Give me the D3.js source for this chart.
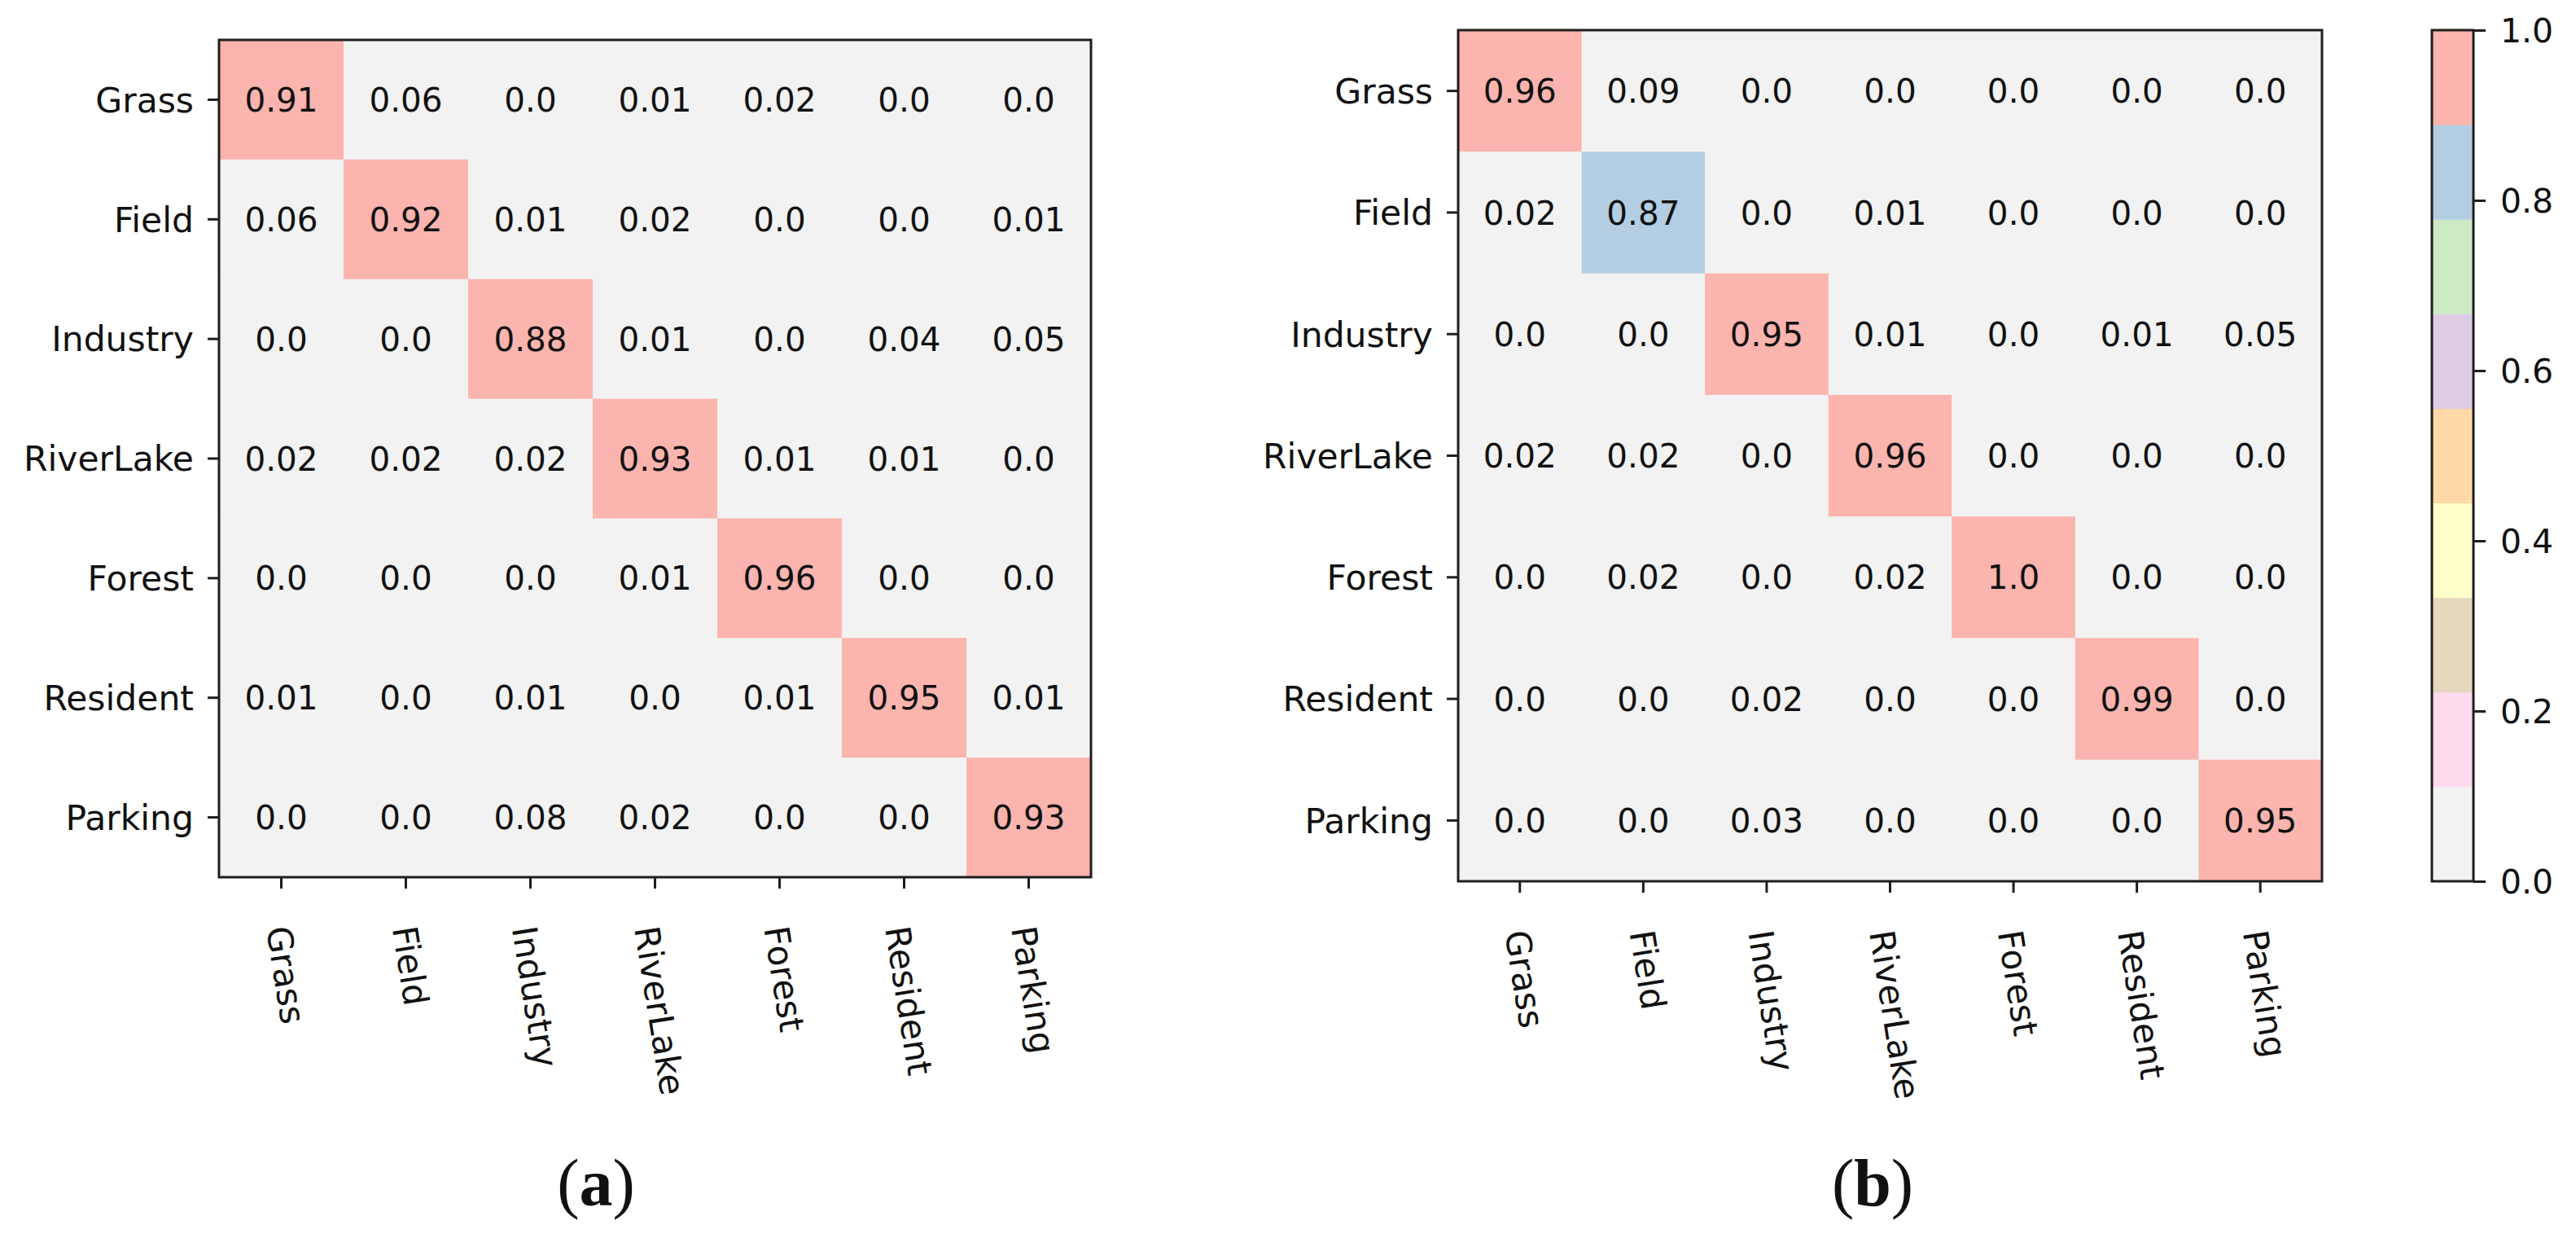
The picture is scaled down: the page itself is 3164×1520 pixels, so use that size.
<!DOCTYPE html>
<html>
<head>
<meta charset="utf-8">
<script src="https://cdn.jsdelivr.net/npm/d3@7"></script>
<style>
  body { margin: 0; background: #fff; }
  text { font-family: "DejaVu Sans", sans-serif; fill: #111; }
</style>
</head>
<body>
<div id="chart"></div>
<script>
const classes = ["Grass", "Field", "Industry", "RiverLake", "Forest", "Resident", "Parking"];

const matrixA = [
  [0.91, 0.06, 0.0, 0.01, 0.02, 0.0, 0.0],
  [0.06, 0.92, 0.01, 0.02, 0.0, 0.0, 0.01],
  [0.0, 0.0, 0.88, 0.01, 0.0, 0.04, 0.05],
  [0.02, 0.02, 0.02, 0.93, 0.01, 0.01, 0.0],
  [0.0, 0.0, 0.0, 0.01, 0.96, 0.0, 0.0],
  [0.01, 0.0, 0.01, 0.0, 0.01, 0.95, 0.01],
  [0.0, 0.0, 0.08, 0.02, 0.0, 0.0, 0.93]
];

const matrixB = [
  [0.96, 0.09, 0.0, 0.0, 0.0, 0.0, 0.0],
  [0.02, 0.87, 0.0, 0.01, 0.0, 0.0, 0.0],
  [0.0, 0.0, 0.95, 0.01, 0.0, 0.01, 0.05],
  [0.02, 0.02, 0.0, 0.96, 0.0, 0.0, 0.0],
  [0.0, 0.02, 0.0, 0.02, 1.0, 0.0, 0.0],
  [0.0, 0.0, 0.02, 0.0, 0.0, 0.99, 0.0],
  [0.0, 0.0, 0.03, 0.0, 0.0, 0.0, 0.95]
];

const colorbarTicks = [0, 0.2, 0.4, 0.6, 0.8, 1.0];
const captions = ["a", "b"];

const width = 3164;
const height = 1520;

const svg = d3
  .select("#chart")
  .append("svg")
  .attr("width", width)
  .attr("height", height)
  .attr("viewBox", [0, 0, width, height]);

svg.append("rect").attr("width", width).attr("height", height).attr("fill", "#fff");

// Pastel1 reversed: 0 -> light grey, 1 -> salmon
const palette = d3.schemePastel1.slice().reverse();

const fmt = v => (Math.round(v * 100) % 10 === 0 ? v.toFixed(1) : v.toFixed(2));

const labelSize = 42.5;
const cellSize = 40.5;
const angle = 81;

function drawMatrix(matrix, box, caption) {
  const x = d3.scaleBand().domain(classes).range([box.x0, box.x1]);
  const y = d3.scaleBand().domain(classes).range([box.y0, box.y1]);
  const vmax = d3.max(matrix.flat());
  const color = d3.scaleQuantize().domain([0, vmax]).range(palette);

  const cells = matrix.flatMap((row, i) =>
    row.map((v, j) => ({ row: classes[i], col: classes[j], v }))
  );

  const g = svg.append("g");

  g.selectAll(".cell")
    .data(cells)
    .join("rect")
    .attr("class", "cell")
    .attr("x", d => x(d.col))
    .attr("y", d => y(d.row))
    .attr("width", x.bandwidth() + 0.5)
    .attr("height", y.bandwidth() + 0.5)
    .attr("fill", d => color(d.v));

  g.selectAll(".val")
    .data(cells)
    .join("text")
    .attr("class", "val")
    .attr("x", d => x(d.col) + x.bandwidth() / 2)
    .attr("y", d => y(d.row) + y.bandwidth() / 2)
    .attr("dy", "0.36em")
    .attr("text-anchor", "middle")
    .attr("font-size", cellSize)
    .text(d => fmt(d.v));

  // frame
  g.append("rect")
    .attr("x", box.x0)
    .attr("y", box.y0)
    .attr("width", box.x1 - box.x0)
    .attr("height", box.y1 - box.y0)
    .attr("fill", "none")
    .attr("stroke", "#1e1e1e")
    .attr("stroke-width", 3);

  // y axis
  const yAxis = g.append("g")
    .attr("transform", `translate(${box.x0},0)`)
    .call(d3.axisLeft(y).tickSize(14).tickPadding(17));
  yAxis.select(".domain").remove();
  yAxis.selectAll(".tick line").attr("stroke", "#1e1e1e").attr("stroke-width", 3);
  yAxis.selectAll(".tick text")
    .attr("font-size", labelSize)
    .attr("font-family", "DejaVu Sans")
    .attr("fill", "#111")
    .attr("dy", "0.36em");

  // x axis ticks
  const xAxis = g.append("g")
    .attr("transform", `translate(0,${box.y1})`)
    .call(d3.axisBottom(x).tickSize(14).tickFormat(""));
  xAxis.select(".domain").remove();
  xAxis.selectAll(".tick line").attr("stroke", "#1e1e1e").attr("stroke-width", 3);

  // rotated x labels, top aligned
  const rad = angle * Math.PI / 180;
  const top = box.y1 + 58;
  const xl = g.selectAll(".xlab")
    .data(classes)
    .join("text")
    .attr("class", "xlab")
    .attr("text-anchor", "middle")
    .attr("dy", "0.36em")
    .attr("font-size", labelSize)
    .text(d => d);
  xl.each(function(d) {
    const L = this.getComputedTextLength();
    const cx = x(d) + x.bandwidth() / 2 + 6;
    const cy = top + (L * Math.sin(rad) + 0.73 * labelSize * Math.cos(rad)) / 2;
    d3.select(this).attr("transform", `translate(${cx},${cy}) rotate(${angle})`);
  });

  // caption
  const cap = svg.append("text")
    .attr("x", caption.x)
    .attr("y", 1480)
    .attr("text-anchor", "middle")
    .attr("font-family", "Liberation Serif, serif")
    .attr("font-size", 82)
    .style("font-family", "'Liberation Serif', serif")
    .attr("fill", "#000");
  cap.append("tspan").text("(");
  cap.append("tspan").attr("font-weight", "bold").text(caption.label);
  cap.append("tspan").text(")");
}

drawMatrix(matrixA, { x0: 269, x1: 1340, y0: 49, y1: 1077 }, { x: 732, label: captions[0] });
drawMatrix(matrixB, { x0: 1791, x1: 2852, y0: 37, y1: 1082 }, { x: 2300, label: captions[1] });

// colorbar
const cb = { x0: 2987, x1: 3038, y0: 37, y1: 1082 };
const cbScale = d3.scaleLinear().domain([0, 1]).range([cb.y1, cb.y0]);
const bins = d3.range(palette.length).map(i => ({ lo: i / palette.length, hi: (i + 1) / palette.length, c: palette[i] }));

const cbg = svg.append("g");
cbg.selectAll("rect.bin")
  .data(bins)
  .join("rect")
  .attr("class", "bin")
  .attr("x", cb.x0)
  .attr("width", cb.x1 - cb.x0)
  .attr("y", d => cbScale(d.hi))
  .attr("height", d => cbScale(d.lo) - cbScale(d.hi) + 0.5)
  .attr("fill", d => d.c);

cbg.append("rect")
  .attr("x", cb.x0)
  .attr("y", cb.y0)
  .attr("width", cb.x1 - cb.x0)
  .attr("height", cb.y1 - cb.y0)
  .attr("fill", "none")
  .attr("stroke", "#1e1e1e")
  .attr("stroke-width", 3);

const cbAxis = cbg.append("g")
  .attr("transform", `translate(${cb.x1},0)`)
  .call(d3.axisRight(cbScale).tickValues(colorbarTicks).tickFormat(d3.format(".1f")).tickSize(15).tickPadding(18));
cbAxis.select(".domain").remove();
cbAxis.selectAll(".tick line").attr("stroke", "#1e1e1e").attr("stroke-width", 3);
cbAxis.selectAll(".tick text")
  .attr("font-size", 41)
  .attr("font-family", "DejaVu Sans")
  .attr("fill", "#111")
  .attr("dy", "0.36em");
</script>
</body>
</html>
